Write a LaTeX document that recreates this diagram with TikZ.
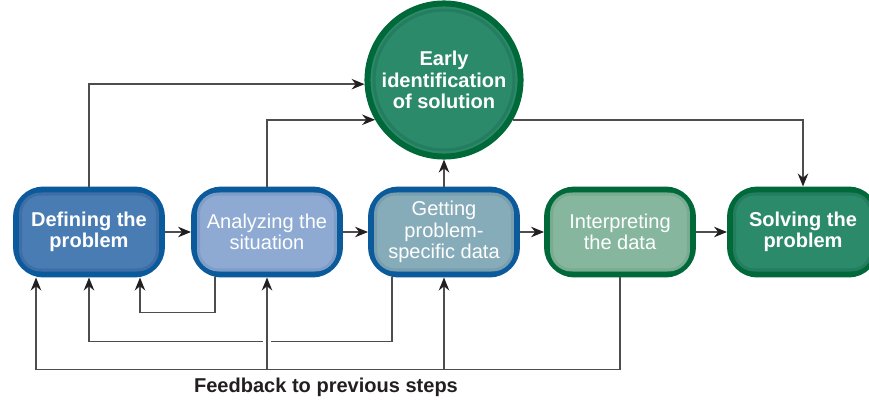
\documentclass[tikz,border=0pt]{standalone}
\usepackage{fontspec}
\setmainfont{Liberation Sans}
\usetikzlibrary{calc,arrows.meta}
\definecolor{blueEdge}{HTML}{0A5A9C}
\definecolor{greenEdge}{HTML}{00693A}
\definecolor{defFill}{HTML}{4A7CB4}
\definecolor{defRing}{HTML}{3F6EA7}
\definecolor{anaFill}{HTML}{8EAAD3}
\definecolor{anaRing}{HTML}{809DC8}
\definecolor{getFill}{HTML}{86ABB9}
\definecolor{getRing}{HTML}{799FAF}
\definecolor{intFill}{HTML}{86B79E}
\definecolor{intRing}{HTML}{79AB91}
\definecolor{solFill}{HTML}{2B8A6A}
\definecolor{solRing}{HTML}{247D5F}
\definecolor{lineGray}{HTML}{4D4D4D}
\definecolor{textDark}{HTML}{231F20}

\tikzset{
  stepbox/.style={draw=blueEdge, line width=0.12cm, rounded corners=0.55cm,
    minimum width=2.92cm, minimum height=1.70cm, align=center, text=white,
    font=\fontsize{11.4}{12.3}\selectfont},
  greenbox/.style={stepbox, draw=greenEdge},
  bigcirc/.style={circle, draw=greenEdge, fill=solFill, line width=0.12cm,
    minimum size=2.98cm, align=center, text=white,
    font=\fontsize{11.4}{12.3}\selectfont\bfseries},
  conn/.style={draw=lineGray, line width=0.85pt,
    -{Stealth[length=2.6mm, width=2.1mm, color=textDark]}},
}

\begin{document}
\begin{tikzpicture}[x=0.02cm, y=0.02cm]
    \useasboundingbox (0,0) rectangle (869,400);

    % steps
    \node[stepbox, fill=defFill, font=\fontsize{11.4}{12.3}\selectfont\bfseries] (b1) at (89,168) {Defining the\\problem};
    \node[stepbox, fill=anaFill] (b2) at (267,168) {Analyzing the\\situation};
    \node[stepbox, fill=getFill] (b3) at (444,168) {Getting\\problem-\\specific data};
    \node[greenbox, fill=intFill] (b4) at (620,168) {Interpreting\\the data};
    \node[greenbox, fill=solFill, font=\fontsize{11.4}{12.3}\selectfont\bfseries] (b5) at (803,168) {Solving the\\problem};
    \node[bigcirc] (circ) at (444,320) {Early\\identification\\of solution};

    % inner rings
    \foreach \n/\c in {b1/defRing, b2/anaRing, b3/getRing, b4/intRing, b5/solRing}
      \draw[\c, line width=0.06cm, rounded corners=0.4cm]
        ($(\n.south west)+(7.5,7.5)$) rectangle ($(\n.north east)-(7.5,7.5)$);
    \draw[solRing, line width=0.06cm] (circ.center) circle (1.4cm);

    % forward arrows
    \draw[conn] (b1) -- (b2);
    \draw[conn] (b2) -- (b3);
    \draw[conn] (b3) -- (b4);
    \draw[conn] (b4) -- (b5);

    % to and from the circle
    \draw[conn] (b1.north) |- (circ.183);
    \draw[conn] (b2.north) |- (circ.210);
    \draw[conn] (b3.north) -- (circ.south);
    \draw[conn] (circ.330) -| (b5.north);

    % feedback
    \draw[conn] ($(b2.south west)+(24,0)$) -- ++(0,-35) -| ($(b1.south east)+(-25,0)$);
    \draw[conn] ($(b3.south west)+(24,0)$) -- ++(0,-64) -| (b1.south);
    \fill[white] ($(b2.south)+(-4,-66)$) rectangle ($(b2.south)+(4,-62)$);
    \draw[conn] (b4.south) -- ++(0,-92) coordinate (fbR) -| ($(b1.south west)+(23,0)$);
    \draw[conn] (b2.south |- fbR) -- (b2.south);
    \draw[conn] (b3.south |- fbR) -- (b3.south);

    \node[text=textDark, font=\fontsize{11.4}{12.3}\selectfont\bfseries] (fbtext) at (326,13) {Feedback to previous steps};
\end{tikzpicture}
\end{document}
